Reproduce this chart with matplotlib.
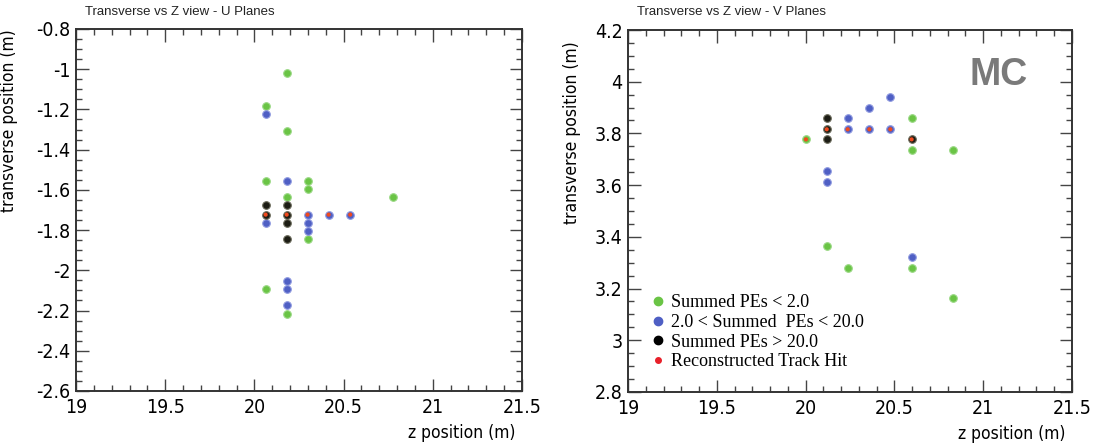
import matplotlib
matplotlib.use("Agg")
import matplotlib.pyplot as plt
from matplotlib.ticker import MultipleLocator, FormatStrFormatter
from matplotlib.lines import Line2D
from matplotlib import font_manager

# ── U planes ────────────────────────────────────────────────────────────
green_u_z = [20.181, 20.063, 20.181, 20.063, 20.298, 20.298, 20.181, 20.778, 20.298, 20.063, 20.181]
green_u_y = [-1.017, -1.183, -1.306, -1.554, -1.554, -1.594, -1.635, -1.635, -1.843, -2.091, -2.219]
blue_u_z = [20.063, 20.181, 20.298, 20.416, 20.537, 20.063, 20.298, 20.298, 20.181, 20.181, 20.181]
blue_u_y = [-1.223, -1.554, -1.723, -1.723, -1.723, -1.763, -1.763, -1.803, -2.052, -2.091, -2.172]
black_u_z = [20.063, 20.181, 20.063, 20.181, 20.181, 20.181]
black_u_y = [-1.677, -1.677, -1.723, -1.723, -1.763, -1.843]
track_u_z = [20.063, 20.181, 20.298, 20.416, 20.537]
track_u_y = [-1.723, -1.723, -1.723, -1.723, -1.723]

# ── V planes ────────────────────────────────────────────────────────────
green_v_z = [20.002, 20.597, 20.597, 20.832, 20.119, 20.237, 20.597, 20.832]
green_v_y = [3.777, 3.859, 3.736, 3.736, 3.366, 3.278, 3.278, 3.164]
blue_v_z = [20.477, 20.359, 20.237, 20.237, 20.359, 20.477, 20.119, 20.119, 20.597]
blue_v_y = [3.942, 3.897, 3.859, 3.816, 3.816, 3.816, 3.656, 3.611, 3.323]
black_v_z = [20.119, 20.119, 20.119, 20.597]
black_v_y = [3.859, 3.816, 3.777, 3.777]
track_v_z = [20.002, 20.119, 20.237, 20.359, 20.477, 20.597]
track_v_y = [3.777, 3.816, 3.816, 3.816, 3.816, 3.777]

legend_labels = ["Summed PEs < 2.0", "2.0 < Summed  PEs < 20.0",
                 "Summed PEs > 20.0", "Reconstructed Track Hit"]

GREEN = "#6ac445"
BLUE = "#4f5fc4"
BLACK = "#1c1c14"
RED = "#f04a1e"
SANS = ["Liberation Sans", "DejaVu Sans"]

# narrow face for ticks/labels (condensed DejaVu if present)
NARROW = font_manager.FontProperties(family="DejaVu Sans", stretch="condensed")

fig = plt.figure(figsize=(11, 4.45), dpi=100)
ax_u = fig.add_axes([76 / 1100, 1 - 391 / 445, 446 / 1100, 362 / 445])
ax_v = fig.add_axes([628 / 1100, 1 - 392 / 445, 444 / 1100, 362 / 445])


def draw_hits(ax, gz, gy, bz, by, kz, ky, tz, ty):
    ax.scatter(gz, gy, s=30, c=GREEN, edgecolors="#9ad884", linewidths=0.8, zorder=3)
    ax.scatter(bz, by, s=30, c=BLUE, edgecolors="#8f9ae0", linewidths=0.8, zorder=3)
    ax.scatter(kz, ky, s=30, c=BLACK, edgecolors="#6a6a5a", linewidths=0.8, zorder=4)
    ax.scatter(tz, ty, s=9, c=RED, edgecolors="none", zorder=5)


def style_axes(ax, ymin, ymax):
    ax.set_xlim(19, 21.5)
    ax.set_ylim(ymin, ymax)
    ax.xaxis.set_major_locator(MultipleLocator(0.5))
    ax.xaxis.set_minor_locator(MultipleLocator(0.1))
    ax.yaxis.set_major_locator(MultipleLocator(0.2))
    ax.yaxis.set_minor_locator(MultipleLocator(0.05))
    ax.xaxis.set_major_formatter(FormatStrFormatter("%g"))
    ax.yaxis.set_major_formatter(FormatStrFormatter("%g"))
    ax.tick_params(which="both", direction="in", top=True, right=True,
                   color="#444444", width=1.0)
    ax.tick_params(which="major", length=9)
    ax.tick_params(axis="x", which="major", pad=5)
    ax.tick_params(axis="y", which="major", pad=4)
    ax.tick_params(which="minor", length=4.5)
    for lab in ax.get_xticklabels() + ax.get_yticklabels():
        lab.set_fontproperties(NARROW)
        lab.set_fontsize(14)
    for sp in ax.spines.values():
        sp.set_linewidth(1.4)
        sp.set_color("#333333")
    ax.set_xlabel("z position (m)", loc="right", fontproperties=NARROW, fontsize=12.5)
    ax.set_ylabel("transverse position (m)", loc="top", fontproperties=NARROW, fontsize=12.5)
    ax.xaxis.set_label_coords(0.985, -0.09)
    ax.yaxis.set_label_coords(-0.13, 1.0)


draw_hits(ax_u, green_u_z, green_u_y, blue_u_z, blue_u_y,
          black_u_z, black_u_y, track_u_z, track_u_y)
style_axes(ax_u, -2.6, -0.8)

draw_hits(ax_v, green_v_z, green_v_y, blue_v_z, blue_v_y,
          black_v_z, black_v_y, track_v_z, track_v_y)
style_axes(ax_v, 2.8, 4.2)
ax_v.yaxis.set_label_coords(-0.105, 0.97)

fig.text(85 / 1100, 1 - 12 / 445, "Transverse vs Z view - U Planes",
         fontsize=9.5, family=SANS, va="center", ha="left", color="#222222")
fig.text(637 / 1100, 1 - 12 / 445, "Transverse vs Z view - V Planes",
         fontsize=9.5, family=SANS, va="center", ha="left", color="#222222")

ax_v.text(0.835, 0.875, "MC", transform=ax_v.transAxes, fontsize=27,
          fontweight="bold", color="#7a7a7a", family=SANS, ha="center", va="center")

handles = [
    Line2D([], [], ls="none", marker="o", ms=6, mfc=GREEN, mec=GREEN),
    Line2D([], [], ls="none", marker="o", ms=6, mfc=BLUE, mec=BLUE),
    Line2D([], [], ls="none", marker="o", ms=6, mfc="black", mec="black"),
    Line2D([], [], ls="none", marker="o", ms=4, mfc="#e8202a", mec="#e8202a"),
]
ax_v.legend(handles, legend_labels, loc="lower left", bbox_to_anchor=(0.04, 0.04),
            frameon=False, handlelength=0.6, handletextpad=0.4, labelspacing=0.15,
            borderaxespad=0, prop={"family": ["Liberation Serif", "DejaVu Serif"], "size": 13})

fig.savefig("out.png", dpi=100)
